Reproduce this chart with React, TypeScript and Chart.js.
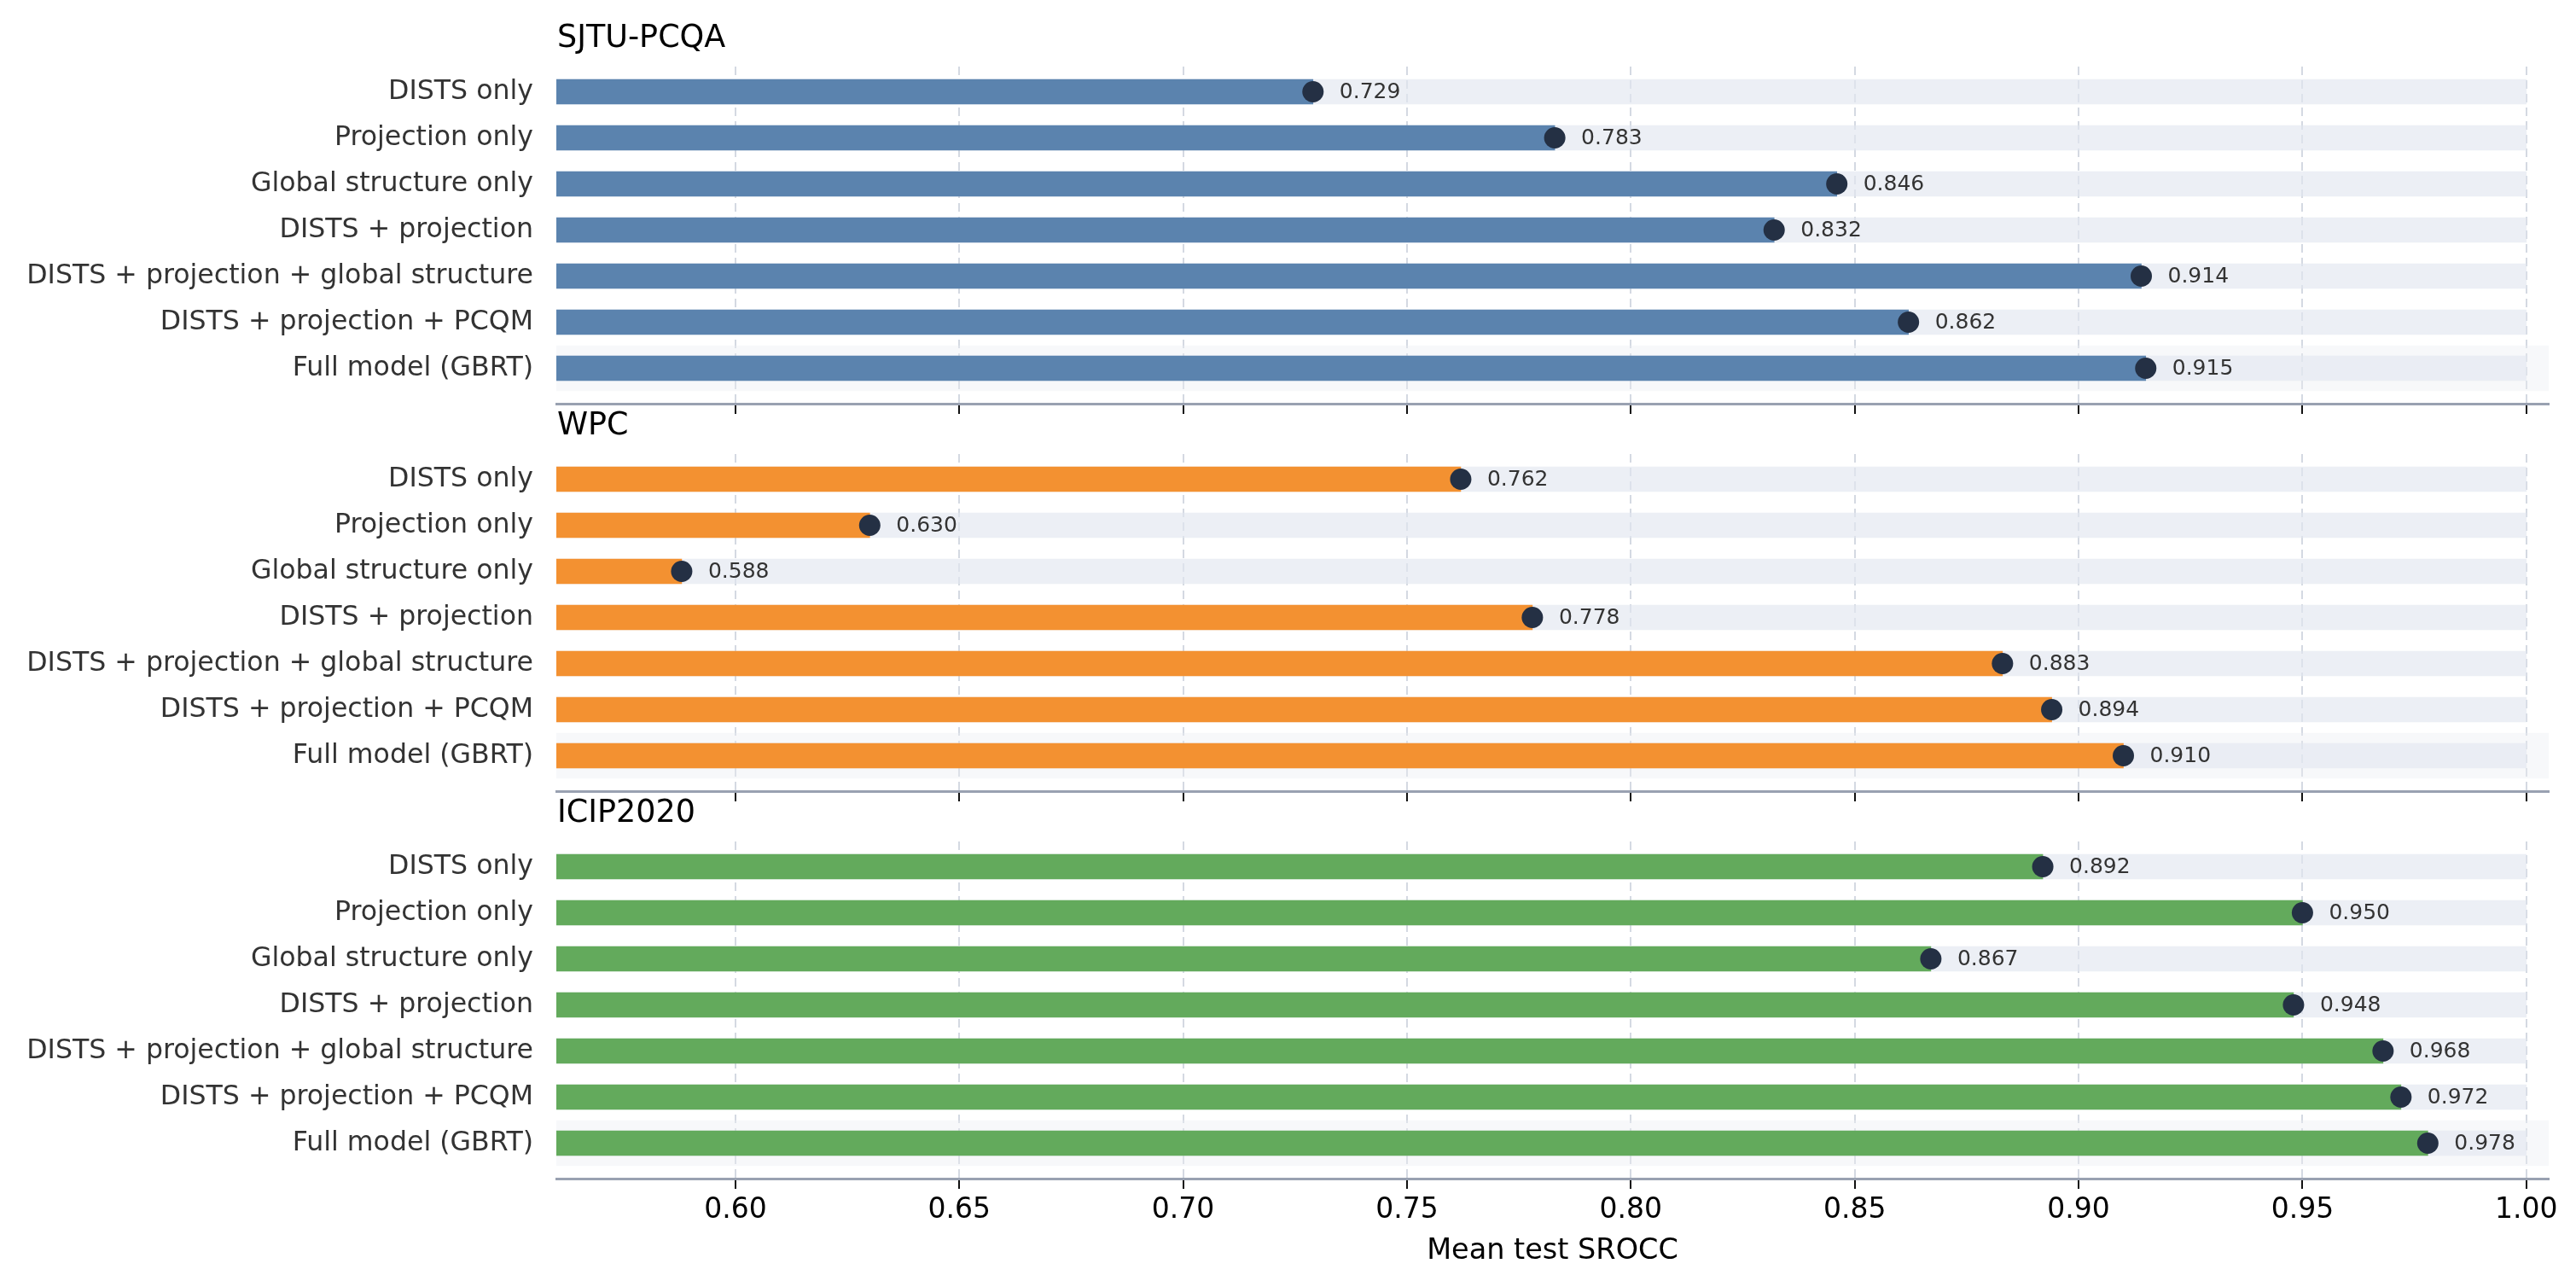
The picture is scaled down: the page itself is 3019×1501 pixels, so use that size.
import { useEffect, useRef } from "react";
import { Chart, registerables } from "chart.js";

Chart.register(...registerables);
Chart.defaults.font.family = "'DejaVu Sans', sans-serif";

const CATEGORIES = [
  "DISTS only",
  "Projection only",
  "Global structure only",
  "DISTS + projection",
  "DISTS + projection + global structure",
  "DISTS + projection + PCQM",
  "Full model (GBRT)",
];
const HIGHLIGHTED = "Full model (GBRT)";

const SJTU_VALUES = [0.729, 0.783, 0.846, 0.832, 0.914, 0.862, 0.915];
const WPC_VALUES = [0.762, 0.63, 0.588, 0.778, 0.883, 0.894, 0.91];
const ICIP_VALUES = [0.892, 0.95, 0.867, 0.948, 0.968, 0.972, 0.978];

const X_TICKS = [0.6, 0.65, 0.7, 0.75, 0.8, 0.85, 0.9, 0.95, 1.0];
const X_MIN = 0.56;
const X_MAX = 1.005;
const TRACK_END = 1.0;

const PANELS = [
  { title: "SJTU-PCQA", values: SJTU_VALUES, color: "#5b83ae", top: 0, height: 493, xHeight: 20, last: false },
  { title: "WPC", values: WPC_VALUES, color: "#f39131", top: 454, height: 493, xHeight: 20, last: false },
  { title: "ICIP2020", values: ICIP_VALUES, color: "#63aa5c", top: 908, height: 593, xHeight: 120, last: true },
];

// panel heading, left-aligned with the plot area
const titlePlugin = {
  id: "panelTitle",
  afterDraw(chart: any, _args: any, opts: any) {
    const { ctx, chartArea } = chart;
    ctx.save();
    ctx.font = "36.5px 'DejaVu Sans'";
    ctx.fillStyle = "#000";
    ctx.textAlign = "left";
    ctx.textBaseline = "alphabetic";
    ctx.fillText(opts.text, chartArea.left + 1, chartArea.top - 23);
    ctx.restore();
  },
};

// value text next to each dot
const valueLabelPlugin = {
  id: "valueLabels",
  afterDatasetsDraw(chart: any) {
    const { ctx } = chart;
    const meta = chart.getDatasetMeta(3);
    const data = chart.data.datasets[3].data;
    ctx.save();
    ctx.font = "25px 'DejaVu Sans'";
    ctx.fillStyle = "#333";
    ctx.textAlign = "left";
    ctx.textBaseline = "middle";
    meta.data.forEach((pt: any, i: number) => {
      ctx.fillText(data[i].x.toFixed(3), pt.x + 31, pt.y + 1);
    });
    ctx.restore();
  },
};

function Panel({ panel }: { panel: (typeof PANELS)[number] }) {
  const chartRef = useRef<HTMLCanvasElement>(null);
  const chartInstanceRef = useRef<Chart | null>(null);

  useEffect(() => {
    if (!chartRef.current) return;
    if (chartInstanceRef.current) chartInstanceRef.current.destroy();
    const ctx = chartRef.current.getContext("2d");
    if (!ctx) return;

    const hi = CATEGORIES.indexOf(HIGHLIGHTED);
    const barCommon = {
      type: "bar",
      indexAxis: "y",
      categoryPercentage: 1,
      barPercentage: 1,
      grouped: false,
    };

    chartInstanceRef.current = new Chart(ctx, {
      type: "bar",
      data: {
        datasets: [
          {
            ...barCommon,
            data: [{ x: [X_MIN, X_MAX], y: hi }],
            backgroundColor: "rgba(235,238,243,0.4)",
            maxBarThickness: 53,
            order: 4,
          },
          {
            ...barCommon,
            data: CATEGORIES.map((_, i) => ({ x: [X_MIN, TRACK_END], y: i })),
            backgroundColor: "rgba(226,231,239,0.65)",
            maxBarThickness: 29,
            order: 3,
          },
          {
            ...barCommon,
            data: panel.values.map((v, i) => ({ x: [X_MIN, v], y: i })),
            backgroundColor: panel.color,
            maxBarThickness: 29,
            order: 2,
          },
          {
            type: "scatter",
            data: panel.values.map((v, i) => ({ x: v, y: i })),
            pointRadius: 12.5,
            pointBackgroundColor: "#243044",
            pointBorderWidth: 0,
            order: 1,
          },
        ] as any,
      },
      options: {
        animation: false,
        responsive: true,
        maintainAspectRatio: false,
        indexAxis: "y",
        layout: { padding: { left: 0, right: 32, top: 78, bottom: 0 } },
        scales: {
          x: {
            type: "linear",
            position: "bottom",
            offset: false,
            min: X_MIN,
            max: X_MAX,
            afterBuildTicks: (s: any) => {
              s.ticks = X_TICKS.map((v) => ({ value: v }));
            },
            afterFit: (s: any) => {
              s.height = panel.xHeight;
            },
            grid: {
              offset: false,
              color: "#d4d9e2",
              lineWidth: 2,
              tickColor: "#111",
              tickLength: 12,
              tickWidth: 2,
              tickBorderDash: [],
            },
            border: { display: true, color: "#99a1b1", width: 3, dash: [10, 6] },
            ticks: {
              display: panel.last,
              color: "#000",
              font: { size: 33 },
              padding: 6,
              autoSkip: false,
              maxRotation: 0,
              callback: (v: any) => Number(v).toFixed(2),
            },
            title: {
              display: panel.last,
              text: "Mean test SROCC",
              color: "#000",
              font: { size: 33.5 },
              padding: { top: 0, bottom: 15 },
            },
          },
          y: {
            type: "linear",
            offset: false,
            reverse: true,
            min: -0.546,
            max: 6.769,
            afterBuildTicks: (s: any) => {
              s.ticks = CATEGORIES.map((_, i) => ({ value: i }));
            },
            afterFit: (s: any) => {
              s.width = 652;
              s.paddingTop = 0;
              s.paddingBottom = 0;
            },
            grid: {
              display: true,
              offset: false,
              drawOnChartArea: false,
              drawTicks: true,
              tickLength: 27,
              tickColor: "rgba(0,0,0,0)",
              color: "rgba(0,0,0,0)",
            },
            border: { display: false },
            ticks: {
              color: "#333",
              font: { size: 31.6 },
              padding: 0,
              autoSkip: false,
              callback: (v: any) => CATEGORIES[v],
            },
          },
        },
        plugins: {
          legend: { display: false },
          tooltip: { enabled: false },
          panelTitle: { text: panel.title },
        } as any,
      },
      plugins: [titlePlugin, valueLabelPlugin],
    });

    return () => {
      if (chartInstanceRef.current) {
        chartInstanceRef.current.destroy();
        chartInstanceRef.current = null;
      }
    };
  }, [panel]);

  return (
    <div style={{ position: "absolute", left: 0, top: panel.top, width: 3019, height: panel.height }}>
      <canvas ref={chartRef}></canvas>
    </div>
  );
}

export default function App() {
  return (
    <div style={{ position: "absolute", left: 0, top: 0, width: 3019, height: 1501, background: "#fff" }}>
      {PANELS.map((p) => (
        <Panel key={p.title} panel={p} />
      ))}
    </div>
  );
}
